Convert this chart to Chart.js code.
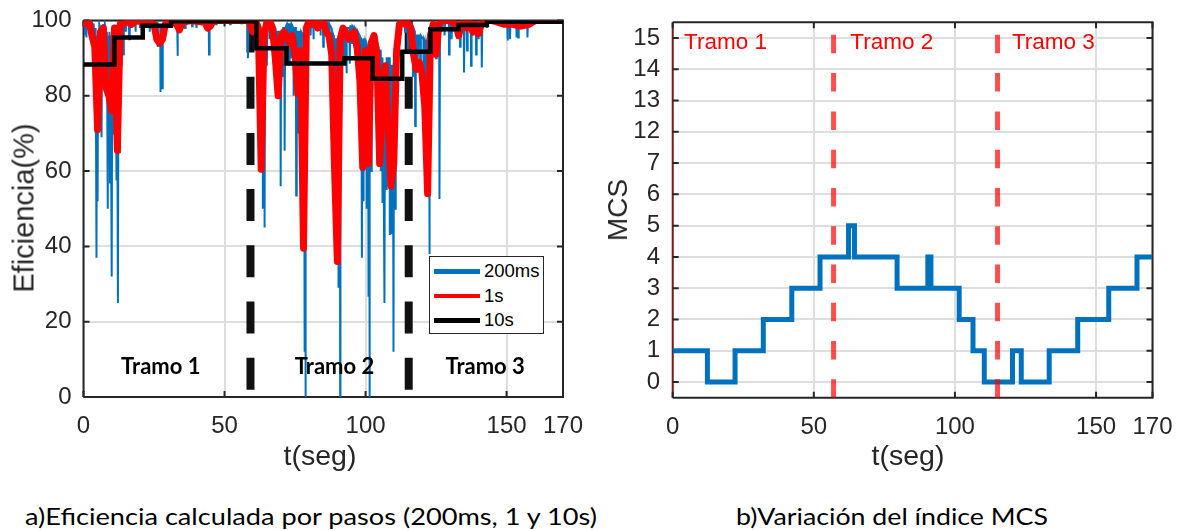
<!DOCTYPE html>
<html>
<head>
<meta charset="utf-8">
<script src="https://cdn.jsdelivr.net/npm/chart.js@4.4.1/dist/chart.umd.min.js"></script>
<style>
  html, body { margin: 0; padding: 0; background: #fff; }
  body { width: 1184px; height: 530px; position: relative; overflow: hidden; font-family: "Liberation Sans", Arial, sans-serif; color: #262626; }
  canvas { position: absolute; top: 0; }
  .lbl { position: absolute; white-space: nowrap; line-height: 1; }
  .ytitle { transform: translate(-50%, -50%) rotate(-90deg); }
  .xtitle { transform: translate(-50%, -50%); }
  .cap { position: absolute; font-family: Lato, "Open Sans", sans-serif; font-size: 24px; color: #000; white-space: nowrap; line-height: 24px; transform-origin: left center; }
  #legend { position: absolute; left: 429px; top: 256px; width: 115px; height: 78px; border: 1px solid #262626; background: #fff; box-sizing: border-box; }
  #legend .row { position: absolute; left: 4px; height: 20px; display: flex; align-items: center; }
  #legend .sw { width: 46px; height: 4.5px; margin-right: 4px; }
  #legend .tx { font-size: 18.5px; color: #000; line-height: 1; }
</style>
</head>
<body>
<canvas id="c1" width="590" height="470" style="left:0px"></canvas>
<canvas id="c2" width="594" height="470" style="left:590px"></canvas>

<div class="lbl ytitle" style="left:24px; top:208px; font-size:29px;">Eficiencia(%)</div>
<div class="lbl xtitle" style="left:320px; top:455px; font-size:28.5px;">t(seg)</div>
<div class="lbl ytitle" style="left:618px; top:210px; font-size:28px;">MCS</div>
<div class="lbl xtitle" style="left:908px; top:455px; font-size:28.5px;">t(seg)</div>

<div id="legend"></div>

<div class="cap fit" data-w="572" style="left:25px; top:504px;">a)Eficiencia calculada por pasos (200ms, 1 y 10s)</div>
<div class="cap fit" data-w="312" style="left:736px; top:504px;">b)Variación del índice MCS</div>

<script>
// ---------------- DATA ----------------
const xTicks = [0, 50, 100, 150, 170];
const effTicks = [0, 20, 40, 60, 80, 100];
const seriesNames = ['200ms', '1s', '10s'];

// 200 ms efficiency (t seconds, %)
const eff200ms = [
[0,99.5],[0.4,99.8],[0.5,96],[0.6,99.8],[0.9,99.6],[1.0,95.5],[1.1,99.8],[1.7,99.7],[1.8,98],[1.9,99.8],
[2.3,99.6],[2.4,96],[2.5,99.5],[2.9,99.5],[3.0,93],[3.1,99],[3.5,99],[3.6,88],[3.7,98],[4.1,97],[4.2,70],
[4.4,98],[4.6,37],[4.8,96],[5.0,52],[5.2,95],[5.4,80],[5.6,99],[5.9,98],[6.0,92],[6.2,97],[6.4,69],[6.6,98],
[6.9,99],[7.0,90],[7.2,98],[7.4,82],[7.6,99],[7.9,98],[8.0,93],[8.3,97],[8.6,50],[8.8,96],[9.0,75],[9.2,97],
[9.4,57],[9.6,96],[10.0,32],[10.2,95],[10.6,70],[10.8,97],[11.2,85],[11.4,97],[11.7,57.5],[11.9,96],[12.2,25],
[12.4,95],[12.7,65],[12.9,98],[13.3,98],[13.4,88],[13.6,99],[14.0,99],[14.1,91],[14.3,99.5],[14.9,99.5],[15.0,97],
[15.2,99.8],[16.1,99.5],[16.2,95],[16.4,99.8],[16.9,99.8],[17.0,98],[17.2,99.8],[18.3,99.8],[18.4,97],[18.6,99.8],
[19.9,99.8],[20.0,98],[20.2,99.9],[21.9,99.9],[22.0,98.5],[22.2,99.9],[23.4,99.8],[23.5,97],[23.7,99.8],[25.2,99.8],
[25.3,96.4],[25.5,99.5],[26.1,99.5],[26.2,93],[26.4,99],[27.2,98],[27.3,81],[27.5,97],[27.8,97],[27.9,82],[28.1,98],
[28.9,99],[29.0,96],[29.2,99.5],[30.4,99.8],[30.5,98],[30.7,99.9],[33.2,99.9],[33.3,90.6],[33.5,99.9],[35.9,99.9],
[36.0,98],[36.2,99.9],[38.4,99.9],[38.5,98.5],[38.7,99.9],[39.9,99.9],[40.0,98],[40.2,99.9],[44.4,99.9],[44.5,91],
[44.7,99.9],[46.9,100],[47.0,99],[47.2,100],[51.9,100],[52.0,99],[52.2,100],[55.9,100],[56.0,99],[56.2,100],
[58.2,100],[58.3,90],[58.5,99.5],[59.4,99.5],[59.5,97],[59.7,99.5],[60.9,99.5],[61.0,95],[61.2,99.5],[61.9,99],
[62.0,90],[62.2,98],[62.9,97],[63.0,70],[63.2,96],[63.5,95],[63.6,50],[63.8,96],[64.1,96],[64.2,45],[64.4,97],
[64.9,98],[65.0,88],[65.2,99],[65.9,99],[66.0,95],[66.2,99.5],[66.9,99],[67.0,93],[67.2,99],[67.9,98],[68.0,85],
[68.2,97],[68.5,97],[68.6,80],[68.8,97],[69.8,97],[69.9,56],[70.1,97],[70.5,97],[70.6,85],[70.8,98],[71.2,98],
[71.3,65.4],[71.5,98],[72.1,99],[72.2,93],[72.4,99],[72.9,99],[73.0,88],[73.2,99],[73.6,99],[73.7,90],[73.9,99],
[74.4,98],[74.5,80],[74.7,98],[75.3,98],[75.4,53.5],[75.6,97],[76.1,97],[76.2,70],[76.4,97],[76.9,97],[77.0,82],
[77.2,97],[77.9,96],[78.0,60],[78.2,95],[78.3,95],[78.4,12],[78.5,94],[78.6,94],[78.7,0],[78.8,95],[79.3,98],
[79.4,90],[79.6,99],[80.4,99.5],[80.5,96],[80.7,99.5],[81.4,99.5],[81.5,95],[81.7,99.5],[82.4,99.8],[82.5,98],
[82.7,99.8],[83.9,99.8],[84.0,96],[84.2,99.8],[84.9,99.5],[85.0,93],[85.2,99.5],[85.9,99.5],[86.0,97],[86.2,99.5],
[86.9,99.5],[87.0,95],[87.2,99],[87.9,98],[88.0,90],[88.2,97],[88.7,96],[88.8,70],[89.0,95],[89.4,95],[89.5,55],
[89.7,95],[90.1,95],[90.2,50],[90.3,94],[90.35,94],[90.4,29],[90.5,93],[90.9,93],[91.0,0],[91.1,94],[91.5,95],
[91.6,85],[91.8,97],[92.3,97],[92.4,90],[92.6,98],[93.1,98],[93.2,86],[93.4,98],[94.3,98],[94.4,88.5],[94.6,98.5],
[95.1,98.5],[95.2,94],[95.4,98.5],[95.9,98],[96.0,93],[96.2,98],[96.9,97],[97.0,90],[97.2,97],[97.7,96],[97.8,85],
[98.0,96],[98.5,95],[98.7,37],[98.9,94],[99.1,94],[99.2,52],[99.4,95],[99.7,95],[99.8,70],[100.0,94],[100.3,93],
[100.4,50],[100.6,93],[100.9,92],[101.0,26.6],[101.1,90],[101.3,90],[101.4,0],[101.5,90],[101.9,92],[102.0,60],
[102.2,94],[102.5,96],[102.6,88],[102.8,96],[103.1,96],[103.2,90],[103.4,95],[103.9,94],[104.0,84],[104.2,94],
[104.5,93],[104.6,75],[104.8,92],[105.3,92],[105.4,60],[105.6,90],[105.9,90],[106.0,51.5],[106.2,88],[106.5,88],
[106.7,25],[106.9,87],[107.3,87],[107.4,55],[107.6,90],[107.9,90],[108.0,75],[108.2,90],[108.5,90],[108.6,43],
[108.8,88],[109.0,88],[109.1,43.5],[109.3,88],[109.7,88],[109.9,12],[110.1,88],[110.4,88],[110.5,50],[110.7,90],
[111.1,92],[111.2,85],[111.4,95],[111.9,98],[112.0,96],[112.2,99],[112.9,99.5],[113.0,99],[113.2,99.5],[113.9,99],
[114.0,97],[114.2,99],[114.9,98],[115.0,92],[115.2,98],[116.7,98],[116.8,85],[117.0,98],[117.5,97],[117.6,72],
[117.8,96],[118.4,96],[118.5,90],[118.7,96],[119.3,96],[119.4,87],[119.6,96],[120.5,95],[120.6,76],[120.8,95],
[121.3,94],[121.4,70],[121.6,94],[121.9,93],[122.0,55],[122.2,92],[122.5,92],[122.6,38],[122.8,93],[123.1,95],
[123.2,70],[123.4,97],[123.9,99],[124.0,95],[124.2,99],[124.9,99],[125.0,90],[125.2,99],[126.1,99],[126.2,52.6],
[126.4,99],[126.9,99.5],[127.0,97],[127.2,99.5],[127.9,99.5],[128.0,96],[128.2,99.5],[129.5,99.5],[129.6,91],
[129.8,99.5],[130.4,99.5],[130.5,95],[130.7,99.5],[131.4,99.5],[131.5,97],[131.7,99.5],[132.4,99.5],[132.5,95.5],
[132.7,99.5],[133.4,99.5],[133.5,93],[133.7,99.5],[134.8,99.5],[134.9,86.2],[135.1,99.5],[135.9,99.5],[136.0,92],
[136.2,99.5],[137.3,99.5],[137.4,88],[137.6,99.5],[138.1,99.5],[138.2,96],[138.4,99.5],[139.1,99.5],[139.2,91],
[139.4,99.5],[139.9,99.5],[140.0,95],[140.2,99.5],[141.1,99.5],[141.2,87.5],[141.4,99.7],[142.9,99.8],[143.0,98],
[143.2,99.9],[144.9,99.9],[145.0,99],[145.2,99.9],[146.9,99.9],[147.0,99],[147.2,99.9],[150.2,99.9],[150.3,94.7],
[150.5,99.9],[151.1,99.9],[151.2,95],[151.4,99.9],[153.4,99.9],[153.5,95.5],[153.6,99.9],[154.0,99.9],[154.1,95.5],
[154.3,99.9],[155.4,99.9],[155.5,98],[155.7,99.9],[157.3,99.9],[157.4,95.5],[157.6,99.9],[159.9,100],[160.0,99],
[160.2,100],[170,100]
];

// 1 s efficiency
const eff1sTime = [0,1,2,3,4,5,6,7,8,9,10,11,12,13,14,15,17,19,21,23,25,26,27,28,29,31,33,34,35,38,43,44,45,46,50,55,58,59,60,61,62,63,64,65,66,67,68,69,70,71,72,73,74,75,76,77,78,79,80,81,82,83,84,85,86,87,88,89,90,91,92,93,94,95,96,97,98,99,100,101,102,103,104,105,106,107,108,109,110,111,112,113,114,115,116,117,118,119,120,121,122,123,124,125,126,127,130,132,133,134,135,136,137,138,139,140,141,142,145,149,152,155,158,160,165,170];
const eff1s     = [99,100,99.5,96,93,71,97,98,82,80,76,98,65.5,99,99,100,99,100,99.5,100,99,95,94,95,99,100,99,97.5,99.5,100,99.5,98,98.5,100,100,100,100,99.5,97,100,98,60.5,96,99.5,100,98,90,80,96,97,96,94,96,91,80.5,92,39.5,98,100,99,100,98,99,100,97,96,91,61,36,95,98,97,95,96,97,93,84,61,92,62,94,96,91,62,80,88,72,56,62,92,99,100,99,99.5,98,91,87,89,86,77,54,96,99,91,99,100,100,99,96,99,100,98,99.5,97,99,96.5,99,100,100,99,99,98.5,99,100,100,100];

// 10 s efficiency (step, value held until next time)
const eff10sTime = [0, 11, 21, 31, 61.3, 72, 92.5, 102.5, 113, 123, 133, 143, 170];
const eff10s     = [88.3, 95.5, 98.6, 99.8, 92.6, 88.6, 90, 84.5, 91.7, 97.7, 98.8, 99.7, 99.7];

// section boundaries
const effBoundaries = [59.2, 115.3];
const mcsBoundaries = [57, 115.1];
const tramoNames = ['Tramo 1', 'Tramo 2', 'Tramo 3'];

// MCS index (step, value held until next time)
const mcsTime  = [0, 12.3, 22.1, 32.1, 42.2, 52.2, 62.3, 64.4, 79.5, 90.4, 91.5, 101.5, 106.4, 110.4, 120.4, 123.5, 133.4, 143.5, 154.5, 164.5, 170];
const mcsValue = [1, 0, 1, 2, 3, 4, 5, 4, 3, 4, 3, 2, 1, 0, 1, 0, 1, 2, 3, 4, 4];
const mcsTickLabels = ['0','1','2','3','4','5','6','7','12','13','14','15'];

// ---------------- STYLE / LAYOUT ----------------
const C_BLUE = '#0072BD', C_RED = '#FF0000', C_BLACK = '#000000', C_AX = '#262626', C_GRID = '#dedede';
Chart.defaults.font.family = '"Liberation Sans", Arial, sans-serif';
Chart.defaults.color = C_AX;

const mcsIndex = v => mcsTickLabels.indexOf(String(v));

function boxPlugin(opts) {
  return {
    id: 'box',
    beforeDatasetsDraw(chart) {
      const {ctx, chartArea: a, scales} = chart;
      ctx.save();
      ctx.lineWidth = 2;
      ctx.strokeStyle = C_AX;
      ctx.beginPath();
      ctx.moveTo(a.left, a.top); ctx.lineTo(a.right, a.top); ctx.lineTo(a.right, a.bottom); ctx.lineTo(a.left, a.bottom);
      ctx.stroke();
      ctx.strokeStyle = opts.leftColor || C_AX;
      ctx.lineWidth = opts.leftWidth || 2;
      ctx.beginPath(); ctx.moveTo(a.left, a.top); ctx.lineTo(a.left, a.bottom); ctx.stroke();
      ctx.strokeStyle = C_AX; ctx.lineWidth = 2;
      const L = 6;
      ctx.beginPath();
      scales.x.ticks.forEach(t => {
        const p = scales.x.getPixelForValue(t.value);
        ctx.moveTo(p, a.bottom); ctx.lineTo(p, a.bottom - L);
        ctx.moveTo(p, a.top); ctx.lineTo(p, a.top + L);
      });
      scales.y.ticks.forEach(t => {
        const p = scales.y.getPixelForValue(t.value);
        ctx.moveTo(a.left, p); ctx.lineTo(a.left + L, p);
        ctx.moveTo(a.right, p); ctx.lineTo(a.right - L, p);
      });
      ctx.stroke();
      ctx.restore();
    },
    afterDatasetsDraw(chart) {
      const {ctx, scales} = chart;
      ctx.save();
      ctx.font = opts.textFont;
      ctx.fillStyle = opts.textColor;
      ctx.textAlign = opts.textAlign;
      ctx.textBaseline = 'middle';
      opts.texts.forEach(tx => {
        ctx.fillText(tx.label, scales.x.getPixelForValue(tx.x), scales.y.getPixelForValue(tx.y));
      });
      ctx.restore();
    }
  };
}

function fixWidth(w) { return s => { s.width = w; }; }
function fixHeight(h) { return s => { s.height = h; }; }

// nudge layout padding so the plot area lands on the wanted pixel box
function fitArea(chart, target) {
  const p = chart.config.options.layout.padding;
  for (let k = 0; k < 5; k++) {
    const a = chart.chartArea;
    const dl = target.left - a.left, dt = target.top - a.top, dr = a.right - target.right, db = a.bottom - target.bottom;
    if (Math.abs(dl) + Math.abs(dt) + Math.abs(dr) + Math.abs(db) < 0.2) break;
    p.left += dl; p.top += dt; p.right += dr; p.bottom += db;
    chart.update('none');
  }
}

// x tick labels: no extra padding (keeps plot edges free), pushed down through line height
const xTickOpts = { font: { size: 24, lineHeight: 2.45 }, padding: 0, color: C_AX, maxRotation: 0, autoSkip: false };

// ---------------- CHART A ----------------
const dashA = effBoundaries.map(t => ({
  type: 'line', data: [{x: t, y: 100}, {x: t, y: 0}], borderColor: '#111', borderWidth: 8,
  borderDash: [32, 24.2], borderCapStyle: 'butt', pointRadius: 0, order: 4
}));

const chartA = new Chart(document.getElementById('c1'), {
  type: 'line',
  data: {
    datasets: [
      { label: seriesNames[0], data: eff200ms.map(p => ({x: p[0], y: p[1]})), borderColor: C_BLUE, borderWidth: 2, pointRadius: 0, order: 3 },
      { label: seriesNames[1], data: eff1sTime.map((t, i) => ({x: t, y: eff1s[i]})), borderColor: C_RED, borderWidth: 7, pointRadius: 0, borderJoinStyle: 'round', borderCapStyle: 'round', order: 2 },
      { label: seriesNames[2], data: eff10sTime.map((t, i) => ({x: t, y: eff10s[i]})), borderColor: C_BLACK, borderWidth: 4.5, pointRadius: 0, stepped: 'before', order: 1 },
      ...dashA
    ]
  },
  options: {
    responsive: false, animation: false, devicePixelRatio: 1,
    layout: { padding: { left: 0, top: 20.5, right: 27, bottom: 0 } },
    plugins: { legend: { display: false }, tooltip: { enabled: false } },
    scales: {
      x: {
        type: 'linear', min: 0, max: 170,
        afterBuildTicks: s => { s.ticks = xTicks.map(v => ({value: v})); },
        afterFit: fixHeight(73),
        grid: { color: C_GRID, lineWidth: 2, drawTicks: false },
        border: { display: false },
        ticks: xTickOpts
      },
      y: {
        type: 'linear', min: 0, max: 100,
        afterBuildTicks: s => { s.ticks = effTicks.map(v => ({value: v})); },
        afterFit: fixWidth(83.5),
        grid: { color: C_GRID, lineWidth: 2, drawTicks: false },
        border: { display: false },
        ticks: { font: { size: 24, lineHeight: 0.5 }, padding: 12, color: C_AX }
      }
    }
  },
  plugins: [boxPlugin({
    textFont: 'bold 22px Lato, "Open Sans", sans-serif', textColor: '#000', textAlign: 'center',
    texts: [{label: tramoNames[0], x: 27.4, y: 8}, {label: tramoNames[1], x: 89, y: 8}, {label: tramoNames[2], x: 142.4, y: 8}]
  })]
});
fitArea(chartA, {left: 83.5, top: 20.5, right: 563, bottom: 397});

// ---------------- CHART B ----------------
const dashB = mcsBoundaries.map(t => ({
  type: 'line', data: [{x: t, y: -0.5}, {x: t, y: 11.5}], borderColor: 'rgba(255,0,0,0.7)', borderWidth: 5,
  borderDash: [18.5, 19.76], borderCapStyle: 'butt', pointRadius: 0, order: 1
}));

const chartB = new Chart(document.getElementById('c2'), {
  type: 'line',
  data: {
    datasets: [
      { label: 'MCS', data: mcsTime.map((t, i) => ({x: t, y: mcsIndex(mcsValue[i])})), borderColor: C_BLUE, borderWidth: 5, pointRadius: 0, stepped: 'before', order: 2 },
      ...dashB
    ]
  },
  options: {
    responsive: false, animation: false, devicePixelRatio: 1,
    layout: { padding: { left: 0, top: 22.3, right: 31.5, bottom: 0 } },
    plugins: { legend: { display: false }, tooltip: { enabled: false } },
    scales: {
      x: {
        type: 'linear', min: 0, max: 170,
        afterBuildTicks: s => { s.ticks = xTicks.map(v => ({value: v})); },
        afterFit: fixHeight(72.3),
        grid: { color: C_GRID, lineWidth: 2, drawTicks: false },
        border: { display: false },
        ticks: xTickOpts
      },
      y: {
        type: 'linear', min: -0.5, max: 11.5,
        afterBuildTicks: s => { s.ticks = mcsTickLabels.map((_, i) => ({value: i})); },
        afterFit: fixWidth(82.7),
        grid: { color: C_GRID, lineWidth: 2, drawTicks: false },
        border: { display: false },
        ticks: { font: { size: 24, lineHeight: 0.5 }, padding: 12.7, color: C_AX, callback: v => mcsTickLabels[v] }
      }
    }
  },
  plugins: [boxPlugin({
    leftColor: '#7a1a1a', leftWidth: 2,
    textFont: '22.5px "Liberation Sans", Arial, sans-serif', textColor: '#FF0000', textAlign: 'left',
    texts: [{label: tramoNames[0], x: 4.0, y: 10.84}, {label: tramoNames[1], x: 62.9, y: 10.84}, {label: tramoNames[2], x: 120.2, y: 10.84}]
  })]
});
fitArea(chartB, {left: 82.7, top: 22.3, right: 562.5, bottom: 397.7});

// ---------------- LEGEND (chart A) ----------------
const legendColors = [C_BLUE, C_RED, C_BLACK];
const legendEl = document.getElementById('legend');
seriesNames.forEach((n, i) => {
  const row = document.createElement('div');
  row.className = 'row';
  row.style.top = (4.5 + i * 24.5) + 'px';
  row.innerHTML = `<div class="sw" style="background:${legendColors[i]}"></div><div class="tx">${n}</div>`;
  legendEl.appendChild(row);
});

// caption width fit
document.querySelectorAll('.fit').forEach(el => {
  const w = el.getBoundingClientRect().width;
  el.style.transform = `scaleX(${(+el.dataset.w) / w})`;
});
</script>
</body>
</html>
